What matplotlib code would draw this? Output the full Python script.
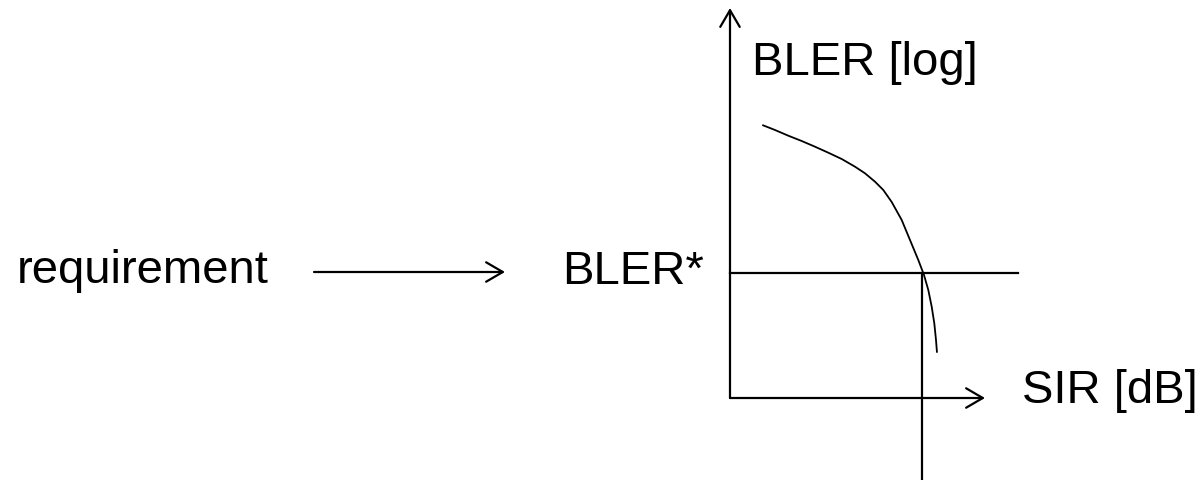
import matplotlib
matplotlib.use("Agg")
import matplotlib.pyplot as plt

plt.rcParams['font.family'] = ['Liberation Sans', 'DejaVu Sans']

# Schematic data (pixel-like diagram units, y grows downward)
curve_x = [762.3, 775.0, 788.3, 801.7, 815.0, 828.3, 841.7, 855.0, 865.0, 875.0,
           883.3, 891.7, 901.7, 910.0, 918.3, 924.0, 928.3, 931.7, 934.3, 936.0, 937.0]
curve_y = [125.0, 130.0, 135.7, 141.0, 146.7, 152.7, 159.0, 166.7, 173.3, 181.7,
           190.0, 202.0, 220.0, 240.0, 260.0, 275.0, 290.0, 306.7, 323.3, 340.0, 352.7]
bler_star = 273          # requirement level
sir_star = 922           # resulting SIR
origin = (730, 398)
labels = {"y": "BLER [log]", "x": "SIR [dB]", "req": "requirement", "target": "BLER*"}

fig = plt.figure(figsize=(11.97, 4.8), dpi=100)
ax = fig.add_axes([0, 0, 1, 1])
ax.set_xlim(0, 1197)
ax.set_ylim(480, 0)
ax.axis('off')

lw_axis = 1.6
arrow = dict(arrowstyle='->,head_length=1.2,head_width=0.7', mutation_scale=10,
             lw=lw_axis, color='black', shrinkA=0, shrinkB=0)

# axes arrows
ax.annotate('', xy=(origin[0], 8), xytext=origin, arrowprops=arrow)
ax.annotate('', xy=(985, origin[1]), xytext=origin, arrowprops=arrow)

# requirement arrow
ax.annotate('', xy=(505, 272), xytext=(314, 272), arrowprops=arrow)

# curve
ax.plot(curve_x, curve_y, color='black', lw=1.3, solid_capstyle='butt',
        solid_joinstyle='round')

# requirement lines
ax.plot([origin[0], 1018], [bler_star, bler_star], color='black', lw=lw_axis)
ax.plot([sir_star, sir_star], [bler_star, 480], color='black', lw=lw_axis)

fs = 34
ax.text(752, 75, labels["y"], fontsize=fs, ha='left', va='baseline')
ax.text(1022, 403, labels["x"], fontsize=fs, ha='left', va='baseline')
ax.text(17, 283, labels["req"], fontsize=fs, ha='left', va='baseline')
ax.text(562, 284, labels["target"], fontsize=fs, ha='left', va='baseline')

fig.savefig('out.png', dpi=100, facecolor='white')
